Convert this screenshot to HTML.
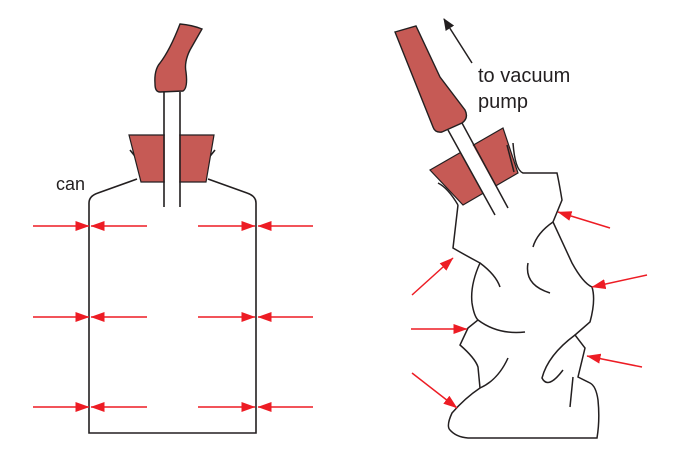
<!DOCTYPE html>
<html><head><meta charset="utf-8"><style>
html,body{margin:0;padding:0;background:#fff;width:674px;height:451px;overflow:hidden}
svg{display:block}
text{font-family:"Liberation Sans",sans-serif;fill:#231f20}
</style></head><body>
<svg width="674" height="451" viewBox="0 0 674 451">
<defs>
<marker id="rh" markerWidth="14" markerHeight="10" refX="13.5" refY="5" orient="auto" markerUnits="userSpaceOnUse"><path d="M0,0 L14,5 L0,10 Z" fill="#ed1c24"/></marker>
<marker id="bh" markerWidth="12" markerHeight="10" refX="11" refY="5" orient="auto" markerUnits="userSpaceOnUse"><path d="M0,0 L12,5 L0,10 Z" fill="#231f20"/></marker>
</defs>
<g fill="none" stroke="#231f20" stroke-width="1.6">
<path d="M137,179 L98,193 Q89,196 89,203 L89,433 L256,433 L256,203 Q256,196 247,193 L208,179"/>
<path d="M130,150 L138,160 M215,150 L207,160"/>
</g>
<path d="M129,135 L214,135 L206,182 L141,182 Z" fill="#c65a55" stroke="#231f20" stroke-width="1.2"/>
<rect x="164.8" y="134" width="14.4" height="49" fill="#fff"/>
<path d="M164,92 L164,207 M180,92 L180,207" stroke="#231f20" stroke-width="1.6" fill="none"/>
<path d="M180,24 Q192,25 202,29 L190,50 Q184,62 186,72 Q188,88 183,91 L160,92 Q155,92 155,84 Q154,70 160,63 Q170,50 180,24 Z" fill="#c65a55" stroke="#231f20" stroke-width="1.4"/>
<text x="56" y="190" font-size="18">can</text>
<g stroke="#ed1c24" stroke-width="1.6" fill="none">
<line x1="33" y1="226" x2="89" y2="226" marker-end="url(#rh)"/><line x1="147" y1="226" x2="91" y2="226" marker-end="url(#rh)"/>
<line x1="198" y1="226" x2="255" y2="226" marker-end="url(#rh)"/><line x1="313" y1="226" x2="258" y2="226" marker-end="url(#rh)"/>
<line x1="33" y1="317" x2="89" y2="317" marker-end="url(#rh)"/><line x1="147" y1="317" x2="91" y2="317" marker-end="url(#rh)"/>
<line x1="198" y1="317" x2="255" y2="317" marker-end="url(#rh)"/><line x1="313" y1="317" x2="258" y2="317" marker-end="url(#rh)"/>
<line x1="33" y1="407" x2="89" y2="407" marker-end="url(#rh)"/><line x1="147" y1="407" x2="91" y2="407" marker-end="url(#rh)"/>
<line x1="198" y1="407" x2="255" y2="407" marker-end="url(#rh)"/><line x1="313" y1="407" x2="258" y2="407" marker-end="url(#rh)"/>
</g>
<g fill="none" stroke="#231f20" stroke-width="1.5">
<path d="M458,205 L453,248 Q465,255 480,263 Q470,285 472,303 Q474,316 478,320 L468,328 L460,345 Q475,358 478,367 L480,388 Q465,398 452,413 Q446,426 450,430 Q456,437 468,438 L597,438 Q600,420 598,400 Q596,386 590,383 L578,377 L585,348 L575,335 L590,322 Q596,300 592,287 Q583,283 572,263 L553,222 L562,200 Q559,182 557,173 L523,173 Q515,170 513,143"/>
<path d="M480,263 Q496,275 500,287 M533,247 Q537,233 553,222 M528,263 Q524,285 550,293 M478,320 Q498,335 525,332 M508,358 Q498,380 480,388 M570,407 L573,377 M575,335 Q548,355 542,378 Q548,390 563,370 M438,183 Q448,188 458,205"/>
</g>
<path d="M430,170 L503,128 L518,173 L463,205 Z" fill="#c65a55" stroke="#231f20" stroke-width="1.2"/>
<path d="M449,131 L495,214 L507,207 L461,124 Z" fill="#fff"/>
<path d="M448,130 L495,215 M462,123 L508,208" stroke="#231f20" stroke-width="1.5" fill="none"/>
<path d="M507,145 L514,172" stroke="#231f20" stroke-width="1.5" fill="none"/>
<path d="M395,32 L416,26 L440,77 L465,110 Q469,118 462,123 L442,132 Q435,133 433,127 Z" fill="#c65a55" stroke="#231f20" stroke-width="1.4"/>
<line x1="472" y1="63" x2="444" y2="19" stroke="#231f20" stroke-width="1.5" marker-end="url(#bh)"/>
<text x="478" y="82" font-size="20">to vacuum</text>
<text x="478" y="108" font-size="20">pump</text>
<g stroke="#ed1c24" stroke-width="1.5" fill="none">
<line x1="610" y1="228" x2="558" y2="212" marker-end="url(#rh)"/>
<line x1="647" y1="275" x2="592" y2="287" marker-end="url(#rh)"/>
<line x1="642" y1="367" x2="587" y2="356" marker-end="url(#rh)"/>
<line x1="412" y1="295" x2="453" y2="258" marker-end="url(#rh)"/>
<line x1="411" y1="329" x2="467" y2="329" marker-end="url(#rh)"/>
<line x1="412" y1="373" x2="457" y2="408" marker-end="url(#rh)"/>
</g>
</svg>
</body></html>
